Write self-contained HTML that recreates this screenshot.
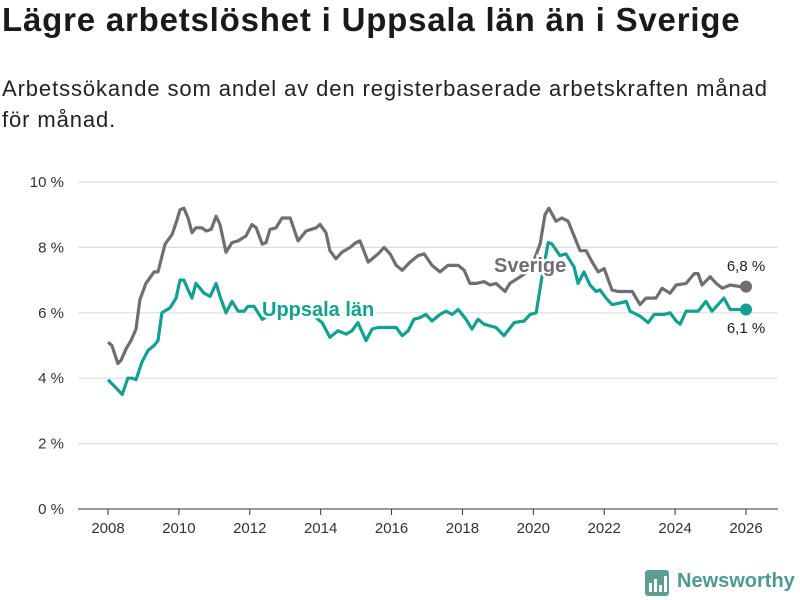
<!DOCTYPE html>
<html><head><meta charset="utf-8"><style>
body{margin:0;background:#fff;font-family:"Liberation Sans","DejaVu Sans",sans-serif;}
#wrap{position:relative;width:800px;height:600px;overflow:hidden;}
h1{position:absolute;left:2px;top:1px;margin:0;font-size:33px;font-weight:bold;color:#1a1a1a;letter-spacing:0.8px;white-space:nowrap;}
p{position:absolute;left:2px;top:73px;margin:0;font-size:22px;line-height:31px;color:#222;width:798px;letter-spacing:0.9px;white-space:nowrap;}
svg{position:absolute;left:0;top:0;}
</style></head><body>
<div id="wrap">
<h1>Lägre arbetslöshet i Uppsala län än i Sverige</h1>
<p>Arbetssökande som andel av den registerbaserade arbetskraften månad<br>för månad.</p>
<svg id="chart" width="800" height="600"></svg>
</div>
<script>
const yTicks=[0,2,4,6,8,10];
const yTickLabels=["0 %","2 %","4 %","6 %","8 %","10 %"];
const xTicks=[2008,2010,2012,2014,2016,2018,2020,2022,2024,2026];
const sverigeYears=[0,.11,.28,.37,.51,.65,.79,.90,1.07,1.30,1.41,1.61,1.81,1.95,2.03,2.14,2.26,2.37,2.48,2.65,2.77,2.91,3.05,3.16,3.33,3.50,3.67,3.89,4.06,4.18,4.35,4.46,4.57,4.74,4.91,5.14,5.36,5.59,5.87,5.98,6.15,6.26,6.43,6.60,6.83,7.00,7.11,7.34,7.62,7.79,7.96,8.13,8.30,8.52,8.75,8.92,9.14,9.37,9.59,9.76,9.88,10.05,10.21,10.38,10.61,10.78,10.95,11.20,11.34,11.63,11.91,12.19,12.33,12.44,12.64,12.81,12.98,13.15,13.32,13.49,13.66,13.83,14.00,14.22,14.39,14.56,14.79,15.01,15.18,15.46,15.63,15.86,16.03,16.31,16.54,16.65,16.76,16.99,17.16,17.33,17.55,17.83,18.00];
const sverigeValues=[5.1,5.0,4.45,4.55,4.9,5.15,5.5,6.4,6.9,7.25,7.25,8.1,8.4,8.85,9.15,9.2,8.9,8.45,8.6,8.6,8.5,8.55,8.95,8.7,7.85,8.15,8.2,8.35,8.7,8.6,8.1,8.15,8.55,8.6,8.9,8.9,8.2,8.5,8.6,8.7,8.45,7.9,7.65,7.85,8.0,8.15,8.2,7.55,7.8,8.0,7.8,7.45,7.3,7.55,7.75,7.8,7.45,7.25,7.45,7.45,7.45,7.3,6.9,6.9,6.95,6.85,6.9,6.65,6.9,7.1,7.3,8.1,9.0,9.2,8.8,8.9,8.8,8.35,7.9,7.9,7.55,7.25,7.35,6.7,6.65,6.65,6.65,6.25,6.45,6.45,6.75,6.6,6.85,6.9,7.2,7.2,6.85,7.1,6.9,6.75,6.85,6.8,6.8];
const uppsalaYears=[0,.23,.40,.56,.68,.79,.96,1.13,1.30,1.41,1.52,1.75,1.92,2.03,2.14,2.26,2.37,2.48,2.71,2.88,3.05,3.16,3.33,3.50,3.67,3.84,3.95,4.12,4.35,4.85,5.28,5.70,6.04,6.26,6.49,6.72,6.88,7.05,7.28,7.45,7.62,8.13,8.30,8.47,8.63,8.80,8.97,9.14,9.37,9.54,9.71,9.88,10.10,10.27,10.44,10.61,10.78,10.95,11.17,11.46,11.74,11.91,12.08,12.25,12.42,12.53,12.75,12.92,13.15,13.26,13.43,13.60,13.77,13.88,14.05,14.22,14.45,14.62,14.73,15.01,15.24,15.41,15.69,15.86,16.03,16.14,16.31,16.65,16.87,17.04,17.38,17.55,17.78,18.0];
const uppsalaValues=[3.95,3.7,3.5,4.0,4.0,3.95,4.5,4.85,5.0,5.15,6.0,6.15,6.45,7.0,7.0,6.7,6.45,6.9,6.6,6.5,6.9,6.5,6.0,6.35,6.05,6.05,6.2,6.2,5.8,6.1,6.2,6.0,5.7,5.25,5.45,5.35,5.45,5.7,5.15,5.5,5.55,5.55,5.3,5.45,5.8,5.85,5.95,5.75,5.95,6.05,5.95,6.1,5.8,5.5,5.8,5.65,5.6,5.55,5.3,5.7,5.75,5.95,6.0,7.15,8.15,8.1,7.75,7.8,7.4,6.9,7.25,6.85,6.65,6.7,6.45,6.25,6.3,6.35,6.05,5.9,5.7,5.95,5.95,6.0,5.75,5.65,6.05,6.05,6.35,6.05,6.45,6.1,6.1,6.1];
const NS='http://www.w3.org/2000/svg';
const svg=document.getElementById('chart');
const x=v=>108+(v/18)*638;
const y=v=>509-v*32.7;
function mk(t,a){const e=document.createElementNS(NS,t);for(const k in a)e.setAttribute(k,a[k]);svg.appendChild(e);return e;}
yTicks.forEach((t,i)=>{
  const l=mk('line',{x1:78,x2:778,y1:y(t),y2:y(t),stroke:t===0?'#333':'#ddd','stroke-width':t===0?1:1.2});
  
  
  const tx=mk('text',{x:64,y:y(t)+5,'text-anchor':'end','font-size':15,fill:'#333'});
  tx.textContent=yTickLabels[i];
  
  
});
xTicks.forEach(t=>{
  const l=mk('line',{x1:x(t-2008),x2:x(t-2008),y1:509,y2:515,stroke:'#333'});
  
  
  const tx=mk('text',{x:x(t-2008),y:533,'text-anchor':'middle','font-size':15,fill:'#333'});
  tx.textContent=t;
  
  
});
function line(ys,vs,color,name){
  const d=ys.map((yy,i)=>(i?'L':'M')+x(yy).toFixed(1)+','+y(vs[i]).toFixed(1)).join('');
  const p=mk('path',{d:d,fill:'none',stroke:color,'stroke-width':3.2,'stroke-linejoin':'round'});
  
  
  const c=mk('circle',{cx:x(ys[ys.length-1]),cy:y(vs[vs.length-1]),r:6,fill:color});
  
  
}
line(sverigeYears,sverigeValues,'#6e6e73','sverige-line');
line(uppsalaYears,uppsalaValues,'#12a090','uppsala-line');
function lab(t,xx,yy,col,size,bold,name,anchor){
  const e=mk('text',{x:xx,y:yy,fill:col,'font-size':size,'font-weight':bold?'bold':'normal',stroke:'#fff','stroke-width':5,'paint-order':'stroke','text-anchor':anchor||'start'});
  e.textContent=t;
  
  
}
lab('Uppsala län',262,316,'#12a090',20,true,'uppsala-label');
lab('Sverige',494,272,'#6e6e73',20,true,'sverige-label');
lab('6,8 %',746,271,'#222',15,false,'sverige-end-value','middle');
lab('6,1 %',746,333,'#222',15,false,'uppsala-end-value','middle');
</script>
<svg width="30" height="30" style="left:644px;top:569px">
<rect x="1" y="1" width="24" height="26" rx="3" fill="#5a9e94"/>
<rect x="5" y="14" width="3" height="9" fill="#fff"/><rect x="10" y="10" width="3" height="13" fill="#fff"/><rect x="15" y="16" width="3" height="7" fill="#fff"/><rect x="20" y="7" width="3" height="16" fill="#fff"/>
</svg>
<div style="position:absolute;left:677px;top:570px;font-size:20px;font-weight:bold;color:#4e9a8f;">Newsworthy</div>
</body></html>
